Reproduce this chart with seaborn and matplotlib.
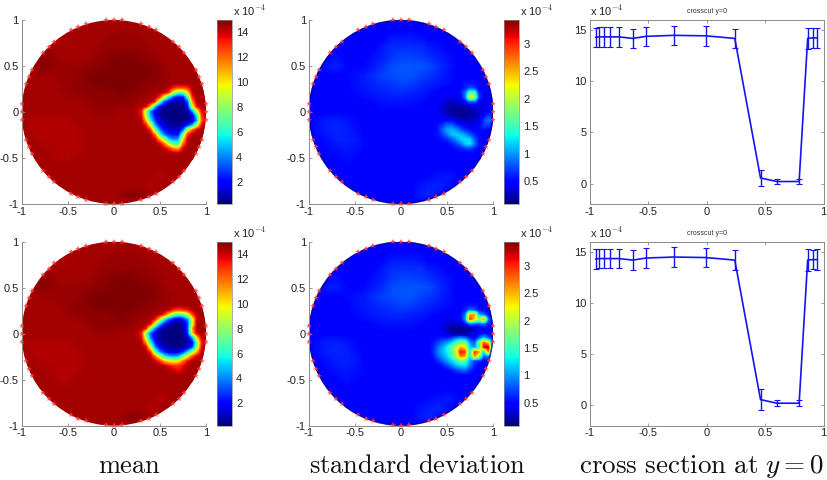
import numpy as np
import pandas as pd
import seaborn as sns
import matplotlib
matplotlib.use('Agg')
from matplotlib import pyplot as plt
from matplotlib.patches import Circle

# reconstructed fields in units of 1e-4, rows run y=1..-1, columns x=-1..1 (step 0.1)
mean_base = [
    [14.5] * 21,
    [14.5] * 21,
    [14.5, 14.5, 14.5, 14.5, 14.4, 14.4, 14.5, 14.5, 14.5, 14.6, 14.7, 14.7, 14.7, 14.6, 14.5, 14.5, 14.5, 14.5, 14.5, 14.5, 14.5],
    [14.5, 14.5, 14.5, 14.5, 14.5, 14.5, 14.5, 14.5, 14.6, 14.7, 14.7, 14.7, 14.7, 14.7, 14.6, 14.5, 14.5, 14.5, 14.5, 14.5, 14.5],
    [14.5, 14.5, 14.7, 14.8, 14.5, 14.5, 14.5, 14.5, 14.7, 14.75, 14.9, 14.95, 14.9, 14.75, 14.7, 14.6, 14.5, 14.5, 14.5, 14.5, 14.5],
    [14.5, 14.5, 14.8, 14.75, 14.65, 14.65, 14.65, 14.7, 14.75, 14.85, 15.0, 15.0, 15.0, 15.0, 14.85, 14.7, 14.5, 14.5, 14.5, 14.5, 14.5],
    [14.5, 14.5, 14.6, 14.6, 14.65, 14.65, 14.7, 14.85, 15.0, 15.0, 15.0, 15.0, 15.0, 15.0, 14.9, 14.7, 14.6, 14.5, 14.5, 14.5, 14.5],
    [14.5, 14.5, 14.5, 14.5, 14.6, 14.7, 14.75, 14.85, 14.95, 15.0, 15.0, 15.0, 15.0, 14.85, 14.75, 14.7, 14.6, 14.5, 14.5, 14.5, 14.5],
    [14.5, 14.5, 14.5, 14.5, 14.5, 14.65, 14.7, 14.75, 14.75, 14.75, 14.85, 14.95, 14.75, 14.75, 14.65, 14.5, 14.5, 14.5, 14.5, 14.5, 14.5],
    [14.5, 14.5, 14.5, 14.5, 14.5, 14.5, 14.5, 14.65, 14.75, 14.75, 14.75, 14.75, 14.65, 14.5, 14.5, 14.5, 14.5, 14.5, 14.5, 14.5, 14.5],
    [14.5, 14.5, 14.5, 14.5, 14.5, 14.5, 14.5, 14.5, 14.65, 14.65, 14.65, 14.5, 14.5, 13.8, 14.5, 14.5, 14.5, 14.5, 14.5, 14.5, 14.5],
    [14.5, 14.35, 14.35, 14.35, 14.35, 14.35, 14.5, 14.5, 14.5, 14.5, 14.5, 14.5, 14.5, 14.5, 14.5, 14.5, 14.5, 14.5, 14.5, 14.5, 14.5],
    [14.5, 14.35, 14.35, 14.35, 14.35, 14.35, 14.35, 14.5, 14.5, 14.5, 14.5, 14.5, 14.5, 14.5, 14.5, 14.5, 14.5, 14.5, 14.5, 14.5, 14.5],
    [14.5, 14.5, 14.35, 14.35, 14.35, 14.35, 14.35, 14.5, 14.5, 14.5, 14.5, 14.5, 14.5, 14.5, 14.5, 14.5, 14.5, 14.5, 14.5, 14.5, 14.5],
    [14.5, 14.5, 14.5, 14.4, 14.35, 14.35, 14.35, 14.5, 14.5, 14.5, 14.5, 14.5, 14.5, 14.5, 14.5, 14.5, 14.5, 14.5, 14.5, 14.5, 14.5],
    [14.5, 14.5, 14.5, 14.5, 14.35, 14.35, 14.5, 14.5, 14.5, 14.5, 14.5, 14.5, 14.5, 14.5, 14.5, 14.5, 14.5, 14.5, 14.5, 14.5, 14.5],
    [14.5] * 21,
    [14.5, 14.5, 14.5, 14.5, 14.5, 14.5, 14.5, 14.5, 14.5, 14.5, 14.5, 14.5, 14.5, 14.5, 14.5, 14.3, 14.5, 14.5, 14.5, 14.5, 14.5],
    [14.5, 14.5, 14.5, 14.5, 14.5, 14.5, 14.5, 14.5, 14.5, 14.5, 14.5, 14.5, 14.5, 14.5, 14.3, 14.5, 14.5, 14.5, 14.5, 14.5, 14.5],
    [14.5, 14.5, 14.5, 14.5, 14.5, 14.5, 14.5, 14.5, 14.5, 14.5, 14.5, 14.7, 14.85, 14.75, 14.5, 14.5, 14.5, 14.5, 14.5, 14.5, 14.5],
    [14.5] * 21,
]

std_base = [
    [0.5] * 21,
    [0.5] * 21,
    [0.5, 0.5, 0.5, 0.5, 0.5, 0.5, 0.5, 0.5, 0.5, 0.58, 0.58, 0.58, 0.55, 0.5, 0.5, 0.5, 0.5, 0.5, 0.5, 0.5, 0.5],
    [0.5, 0.5, 0.5, 0.5, 0.5, 0.5, 0.5, 0.5, 0.58, 0.65, 0.65, 0.65, 0.65, 0.58, 0.55, 0.5, 0.5, 0.5, 0.5, 0.5, 0.5],
    [0.5, 0.5, 0.5, 0.55, 0.5, 0.5, 0.5, 0.55, 0.6, 0.68, 0.72, 0.72, 0.7, 0.65, 0.6, 0.55, 0.5, 0.5, 0.5, 0.5, 0.5],
    [0.5, 0.5, 0.58, 0.6, 0.52, 0.5, 0.52, 0.58, 0.65, 0.75, 0.78, 0.78, 0.78, 0.75, 0.65, 0.58, 0.5, 0.5, 0.5, 0.5, 0.5],
    [0.5, 0.5, 0.5, 0.5, 0.52, 0.55, 0.58, 0.65, 0.72, 0.75, 0.78, 0.78, 0.72, 0.68, 0.62, 0.55, 0.5, 0.5, 0.5, 0.5, 0.5],
    [0.5, 0.5, 0.5, 0.5, 0.5, 0.55, 0.58, 0.62, 0.65, 0.68, 0.72, 0.7, 0.65, 0.6, 0.58, 0.55, 0.5, 0.5, 0.5, 0.5, 0.5],
    [0.5, 0.5, 0.5, 0.5, 0.5, 0.52, 0.55, 0.58, 0.6, 0.62, 0.62, 0.6, 0.58, 0.55, 0.5, 0.5, 0.5, 0.5, 0.5, 0.5, 0.5],
    [0.5, 0.5, 0.5, 0.5, 0.5, 0.5, 0.5, 0.52, 0.55, 0.55, 0.55, 0.55, 0.52, 0.5, 0.5, 0.5, 0.5, 0.5, 0.5, 0.5, 0.5],
    [0.5, 0.5, 0.5, 0.5, 0.5, 0.5, 0.5, 0.5, 0.5, 0.5, 0.5, 0.5, 0.5, 0.5, 0.5, 0.5, 0.5, 0.5, 0.5, 0.5, 0.5],
    [0.5, 0.55, 0.6, 0.6, 0.58, 0.52, 0.5, 0.5, 0.5, 0.5, 0.5, 0.5, 0.5, 0.5, 0.5, 0.5, 0.5, 0.5, 0.5, 0.5, 0.5],
    [0.5, 0.55, 0.6, 0.62, 0.6, 0.55, 0.5, 0.5, 0.5, 0.5, 0.5, 0.5, 0.5, 0.5, 0.5, 0.5, 0.5, 0.5, 0.5, 0.5, 0.5],
    [0.5, 0.5, 0.55, 0.6, 0.6, 0.58, 0.52, 0.5, 0.5, 0.5, 0.5, 0.5, 0.5, 0.5, 0.5, 0.5, 0.5, 0.5, 0.5, 0.5, 0.5],
    [0.5, 0.5, 0.52, 0.55, 0.58, 0.55, 0.52, 0.5, 0.5, 0.5, 0.5, 0.5, 0.5, 0.5, 0.5, 0.5, 0.5, 0.5, 0.5, 0.5, 0.5],
    [0.5, 0.5, 0.5, 0.5, 0.55, 0.52, 0.5, 0.5, 0.5, 0.5, 0.5, 0.5, 0.5, 0.5, 0.5, 0.5, 0.5, 0.5, 0.5, 0.5, 0.5],
    [0.5] * 21,
    [0.5, 0.5, 0.5, 0.5, 0.5, 0.5, 0.5, 0.5, 0.5, 0.5, 0.5, 0.5, 0.5, 0.52, 0.55, 0.58, 0.52, 0.5, 0.5, 0.5, 0.5],
    [0.5, 0.5, 0.5, 0.5, 0.5, 0.5, 0.5, 0.5, 0.5, 0.5, 0.5, 0.5, 0.55, 0.6, 0.62, 0.55, 0.5, 0.5, 0.5, 0.5, 0.5],
    [0.5, 0.5, 0.5, 0.5, 0.5, 0.5, 0.5, 0.5, 0.5, 0.5, 0.5, 0.5, 0.58, 0.62, 0.55, 0.5, 0.5, 0.5, 0.5, 0.5, 0.5],
    [0.5] * 21,
]

# finer patches around the inclusion, rows y=0.3..-0.5, columns x=0.3..1 (step 0.05)
mean_patch_top = [
    [14.85, 14.8, 14.75, 14.72, 14.7, 14.65, 14.6, 14.55, 14.5, 14.5, 14.5, 14.5, 14.5, 14.5, 14.5],
    [14.75, 14.72, 14.7, 14.65, 14.6, 14.55, 14.3, 13.0, 12.5, 12.5, 13.0, 14.3, 14.5, 14.5, 14.5],
    [14.75, 14.7, 14.65, 14.55, 14.4, 14.0, 13.0, 9.0, 7.0, 7.0, 10.0, 14.0, 14.5, 14.5, 14.5],
    [14.6, 14.55, 14.5, 14.3, 13.0, 9.0, 5.5, 3.0, 2.0, 2.2, 6.5, 13.0, 14.4, 14.5, 14.5],
    [14.5, 14.5, 14.4, 13.0, 7.0, 3.0, 1.5, 0.8, 0.5, 0.8, 3.0, 11.0, 14.3, 14.5, 14.5],
    [14.4, 14.0, 11.0, 5.0, 2.0, 0.8, 0.4, 0.3, 0.25, 0.3, 2.0, 9.0, 13.5, 14.4, 14.5],
    [13.5, 8.0, 4.0, 1.5, 0.6, 0.3, 0.25, 0.25, 0.25, 0.3, 0.6, 4.0, 9.0, 13.5, 14.5],
    [14.0, 9.0, 4.5, 2.0, 0.8, 0.4, 0.3, 0.25, 0.25, 0.3, 0.5, 1.2, 5.5, 12.5, 14.5],
    [14.4, 11.0, 6.0, 2.8, 1.2, 0.7, 0.4, 0.3, 0.25, 0.3, 0.5, 1.0, 4.5, 12.0, 14.5],
    [14.5, 13.5, 9.5, 4.5, 2.2, 1.2, 0.8, 0.6, 0.5, 0.9, 2.5, 4.5, 9.0, 13.5, 14.5],
    [14.5, 14.4, 13.0, 7.5, 4.0, 2.2, 1.6, 1.2, 1.2, 3.2, 9.0, 12.0, 14.0, 14.5, 14.5],
    [14.5, 14.5, 14.3, 12.0, 6.5, 3.8, 2.6, 2.2, 2.2, 7.5, 13.0, 14.3, 14.5, 14.5, 14.5],
    [14.5, 14.5, 14.5, 14.0, 11.0, 8.0, 5.0, 4.0, 4.5, 10.0, 14.0, 14.5, 14.5, 14.5, 14.5],
    [14.5, 14.5, 14.5, 14.5, 14.0, 12.0, 9.0, 7.0, 6.5, 12.0, 14.3, 14.5, 14.5, 14.5, 14.5],
    [14.5, 14.5, 14.5, 14.5, 14.5, 14.0, 13.0, 11.5, 11.0, 14.0, 14.5, 14.5, 14.5, 14.5, 14.5],
    [14.5, 14.5, 14.5, 14.5, 14.5, 14.5, 14.4, 14.3, 14.3, 14.4, 14.5, 14.5, 14.5, 14.5, 14.5],
    [14.5] * 15,
]

mean_patch_bottom = [
    [14.85, 14.8, 14.75, 14.72, 14.7, 14.65, 14.6, 14.55, 14.5, 14.5, 14.5, 14.5, 14.5, 14.5, 14.5],
    [14.75, 14.72, 14.7, 14.65, 14.6, 14.4, 14.3, 13.0, 12.5, 13.0, 13.5, 14.3, 14.5, 14.5, 14.5],
    [14.75, 14.7, 14.65, 14.4, 14.2, 13.0, 10.0, 8.0, 6.5, 7.0, 9.0, 12.5, 14.4, 14.5, 14.5],
    [14.6, 14.55, 14.4, 13.5, 10.0, 6.0, 3.5, 2.0, 1.3, 2.0, 4.0, 9.0, 14.0, 14.5, 14.5],
    [14.5, 14.4, 14.0, 9.0, 5.0, 2.5, 1.2, 0.6, 0.4, 0.9, 3.0, 9.0, 14.3, 14.5, 14.5],
    [14.4, 13.5, 8.0, 4.0, 1.6, 0.6, 0.3, 0.25, 0.25, 0.6, 3.0, 11.0, 14.4, 14.5, 14.5],
    [13.5, 7.5, 3.5, 1.3, 0.5, 0.3, 0.25, 0.25, 0.25, 0.5, 2.6, 10.0, 14.0, 14.5, 14.5],
    [14.0, 9.0, 4.0, 1.6, 0.6, 0.3, 0.25, 0.25, 0.25, 0.3, 1.0, 4.0, 10.0, 14.0, 14.5],
    [14.4, 11.5, 6.0, 2.5, 1.0, 0.5, 0.3, 0.25, 0.25, 0.3, 0.6, 2.0, 7.0, 13.0, 14.5],
    [14.5, 14.0, 9.0, 4.0, 2.0, 1.0, 0.6, 0.5, 0.5, 0.7, 1.3, 3.0, 8.0, 13.5, 14.5],
    [14.5, 14.4, 13.0, 7.5, 4.0, 2.5, 1.6, 1.4, 1.6, 2.6, 5.0, 8.0, 11.0, 14.0, 14.5],
    [14.5, 14.5, 14.3, 12.0, 9.0, 6.0, 5.0, 4.5, 5.0, 7.0, 10.0, 12.5, 14.0, 14.5, 14.5],
    [14.5, 14.5, 14.5, 14.0, 13.0, 11.0, 10.0, 9.5, 10.0, 12.0, 13.5, 14.3, 14.5, 14.5, 14.5],
    [14.5, 14.5, 14.5, 14.5, 14.4, 14.2, 13.5, 13.0, 13.0, 13.5, 14.3, 14.5, 14.5, 14.5, 14.5],
    [14.5, 14.5, 14.5, 14.5, 14.5, 14.5, 14.4, 14.0, 13.5, 14.0, 14.5, 14.5, 14.5, 14.5, 14.5],
    [14.5] * 15,
    [14.5] * 15,
]

std_patch_top = [
    [0.62, 0.6, 0.58, 0.56, 0.55, 0.52, 0.5, 0.5, 0.55, 0.55, 0.55, 0.5, 0.5, 0.5, 0.5],
    [0.58, 0.56, 0.54, 0.52, 0.5, 0.5, 0.5, 0.5, 0.6, 0.8, 0.7, 0.5, 0.5, 0.5, 0.5],
    [0.55, 0.52, 0.5, 0.5, 0.45, 0.45, 0.5, 0.55, 0.9, 1.6, 1.6, 0.6, 0.5, 0.5, 0.5],
    [0.52, 0.5, 0.5, 0.45, 0.4, 0.4, 0.45, 0.5, 0.9, 2.2, 2.0, 0.7, 0.5, 0.45, 0.5],
    [0.5, 0.5, 0.5, 0.4, 0.3, 0.3, 0.3, 0.35, 0.5, 0.8, 0.8, 0.45, 0.4, 0.4, 0.5],
    [0.5, 0.5, 0.45, 0.35, 0.25, 0.2, 0.2, 0.2, 0.25, 0.3, 0.35, 0.35, 0.4, 0.45, 0.5],
    [0.5, 0.5, 0.45, 0.35, 0.25, 0.18, 0.15, 0.15, 0.15, 0.2, 0.25, 0.3, 0.4, 0.5, 0.5],
    [0.5, 0.5, 0.45, 0.4, 0.3, 0.22, 0.18, 0.15, 0.15, 0.2, 0.2, 0.3, 0.5, 0.7, 0.6],
    [0.5, 0.5, 0.5, 0.5, 0.55, 0.55, 0.4, 0.3, 0.25, 0.3, 0.3, 0.4, 0.7, 0.9, 0.7],
    [0.5, 0.5, 0.55, 0.65, 0.85, 0.85, 0.7, 0.55, 0.45, 0.4, 0.4, 0.5, 0.7, 0.7, 0.5],
    [0.5, 0.5, 0.55, 0.8, 1.05, 1.1, 1.0, 0.8, 0.65, 0.55, 0.5, 0.5, 0.55, 0.5, 0.5],
    [0.5, 0.5, 0.55, 0.7, 0.9, 1.15, 1.2, 1.15, 1.0, 0.8, 0.6, 0.55, 0.5, 0.5, 0.5],
    [0.5, 0.5, 0.5, 0.55, 0.65, 0.8, 1.0, 1.2, 1.25, 1.2, 0.8, 0.55, 0.5, 0.5, 0.5],
    [0.5, 0.5, 0.5, 0.5, 0.5, 0.6, 0.7, 0.9, 1.2, 1.3, 0.9, 0.55, 0.5, 0.5, 0.5],
    [0.5, 0.5, 0.5, 0.5, 0.5, 0.5, 0.55, 0.6, 0.7, 0.75, 0.6, 0.5, 0.5, 0.5, 0.5],
    [0.5] * 15,
    [0.5] * 15,
]

std_patch_bottom = [
    [0.62, 0.6, 0.58, 0.56, 0.55, 0.52, 0.5, 0.5, 0.55, 0.55, 0.55, 0.5, 0.5, 0.5, 0.5],
    [0.58, 0.56, 0.54, 0.52, 0.5, 0.5, 0.5, 0.5, 0.6, 0.9, 0.8, 0.55, 0.5, 0.5, 0.5],
    [0.55, 0.52, 0.5, 0.5, 0.45, 0.45, 0.5, 0.55, 0.9, 2.6, 2.6, 1.1, 0.9, 0.55, 0.5],
    [0.52, 0.5, 0.5, 0.45, 0.4, 0.4, 0.45, 0.5, 1.0, 3.0, 2.4, 2.0, 2.7, 0.9, 0.5],
    [0.5, 0.5, 0.5, 0.4, 0.35, 0.3, 0.3, 0.35, 0.5, 0.9, 0.8, 0.8, 0.9, 0.6, 0.5],
    [0.5, 0.5, 0.45, 0.4, 0.3, 0.15, 0.15, 0.12, 0.12, 0.2, 0.3, 0.4, 0.45, 0.5, 0.5],
    [0.5, 0.5, 0.5, 0.45, 0.3, 0.2, 0.15, 0.12, 0.15, 0.3, 0.35, 0.45, 0.5, 0.5, 0.5],
    [0.5, 0.5, 0.55, 0.6, 0.6, 0.7, 0.9, 1.0, 0.9, 0.6, 0.5, 0.8, 1.2, 0.8, 0.5],
    [0.5, 0.55, 0.7, 0.85, 1.0, 1.2, 1.5, 1.8, 1.7, 1.0, 0.8, 1.8, 2.8, 2.4, 0.7],
    [0.5, 0.6, 0.85, 1.05, 1.3, 1.6, 2.0, 2.5, 2.3, 1.2, 1.0, 1.5, 3.2, 3.3, 0.8],
    [0.5, 0.6, 0.9, 1.1, 1.3, 1.55, 2.1, 3.1, 2.9, 1.3, 3.0, 2.6, 1.2, 2.8, 0.7],
    [0.5, 0.55, 0.8, 1.0, 1.2, 1.45, 1.9, 2.7, 2.5, 1.2, 2.6, 2.0, 0.8, 0.9, 0.5],
    [0.5, 0.5, 0.6, 0.8, 1.0, 1.2, 1.4, 1.7, 1.6, 1.0, 0.7, 0.6, 0.5, 0.5, 0.5],
    [0.5, 0.5, 0.5, 0.55, 0.7, 0.9, 1.1, 1.2, 1.25, 0.95, 0.6, 0.5, 0.5, 0.5, 0.5],
    [0.5, 0.5, 0.5, 0.5, 0.5, 0.55, 0.7, 0.8, 0.85, 0.65, 0.5, 0.5, 0.5, 0.5, 0.5],
    [0.5] * 15,
    [0.5] * 15,
]

# electrodes sit in groups of three round the boundary
electrode_groups = [0, 22.5, 45, 67.5, 90, 112.5, 135, 157.5, 180, 202.5, 225, 247.5, 270, 292.5, 315, 337.5]
electrode_offsets = [-5, 0, 5]

# cross section at y=0
cut_x = [-0.95, -0.92, -0.877, -0.826, -0.752, -0.632, -0.52, -0.282, -0.008, 0.24, 0.46, 0.6, 0.79, 0.863, 0.906, 0.946]
cut_mean = [14.3, 14.35, 14.35, 14.35, 14.35, 14.2, 14.4, 14.5, 14.45, 14.2, 0.55, 0.2, 0.2, 14.2, 14.25, 14.25]
cut_err_top = [0.95, 0.95, 0.95, 0.95, 0.95, 0.95, 0.95, 0.95, 0.95, 0.95, 0.75, 0.25, 0.25, 1.0, 0.95, 1.0]
cut_err_bottom = [0.95, 0.95, 0.95, 0.95, 0.95, 0.95, 0.95, 0.95, 0.95, 0.95, 1.0, 0.3, 0.3, 1.05, 0.95, 1.0]

field_ticks = [-1, -0.5, 0, 0.5, 1]
field_ticklabels = ['-1', '-0.5', '0', '0.5', '1']
mean_cbar_ticks = [2, 4, 6, 8, 10, 12, 14]
std_cbar_ticks = [0.5, 1, 1.5, 2, 2.5, 3]
std_cbar_ticklabels = ['0.5', '1', '1.5', '2', '2.5', '3']
cut_yticks = [0, 5, 10, 15]

W, H = 827, 480
GREY = '#8a8a8a'

sns.set_style('white')
plt.rcParams['font.family'] = ['Liberation Sans', 'DejaVu Sans']
plt.rcParams['mathtext.fontset'] = 'cm'
cmap = plt.get_cmap('jet')

fig = plt.figure(figsize=(W / 100, H / 100), dpi=100)


def add_ax(x0, y0, x1, y1):
    # pixel box, measured from the top left of the image
    return fig.add_axes([x0 / W, 1 - y1 / H, (x1 - x0) / W, (y1 - y0) / H])


def style_ticks(ax):
    ax.tick_params(axis='both', labelsize=8, direction='in', length=2.5, width=0.6,
                   color=GREY, labelcolor='#222222', pad=2, left=True, bottom=True)


def draw_field(x0, y0, base, patch, vmin, vmax, cbar_ticks, cbar_labels, rim):
    ax = add_ax(x0, y0, x0 + 184.5, y0 + 184)
    circle = Circle((0, 0), 1, transform=ax.transData, facecolor='none', edgecolor='none')
    ax.add_patch(circle)
    images = [
        ax.imshow(np.array(base), extent=[-1.05, 1.05, -1.05, 1.05], cmap=cmap, vmin=vmin, vmax=vmax,
                  interpolation='bilinear', origin='upper', aspect='auto'),
        ax.imshow(np.array(patch), extent=[0.275, 1.025, -0.525, 0.325], cmap=cmap, vmin=vmin, vmax=vmax,
                  interpolation='bilinear', origin='upper', aspect='auto'),
    ]
    for im in images:
        im.set_clip_path(circle)
    if rim:
        ax.add_patch(Circle((0, 0), 0.995, facecolor='none', edgecolor='#000080', linewidth=1.2, alpha=0.6))
    angles = np.radians([g + o for g in electrode_groups for o in electrode_offsets])
    ax.plot(np.cos(angles), np.sin(angles), linestyle='none', marker='*', markersize=4,
            color='#ff3b3b', markeredgewidth=0, alpha=0.85, clip_on=False, zorder=5)
    ax.set_xlim(-1, 1)
    ax.set_ylim(-1, 1)
    ax.set_xticks(field_ticks, field_ticklabels)
    ax.set_yticks(field_ticks, field_ticklabels)
    style_ticks(ax)
    sns.despine(ax=ax)
    for side in ['left', 'bottom']:
        ax.spines[side].set_color(GREY)
        ax.spines[side].set_linewidth(0.7)

    cax = add_ax(x0 + 195.5, y0, x0 + 210.5, y0 + 184)
    cb = fig.colorbar(images[0], cax=cax)
    cb.set_ticks(cbar_ticks, labels=cbar_labels)
    cb.ax.tick_params(labelsize=8, direction='in', length=2, width=0.5, color=GREY, labelcolor='#222222', pad=3)
    cb.outline.set_edgecolor(GREY)
    cb.outline.set_linewidth(0.5)
    fig.text((x0 + 211.5) / W, 1 - (y0 - 2) / H, r'x 10$^{-4}$', fontsize=8, color='#222222', va='bottom')


def draw_cut(y0, err):
    ax = add_ax(589.7, y0, 823.7, y0 + 184)
    cut = pd.DataFrame({'x': cut_x, 'mean': cut_mean})
    sns.lineplot(data=cut, x='x', y='mean', color='#1414f0', linewidth=1.2, ax=ax, errorbar=None)
    ax.errorbar(cut_x, cut_mean, yerr=err, fmt='none', ecolor='#1414f0', elinewidth=1, capsize=2, capthick=0.8)
    ax.set_xlim(-1, 1)
    ax.set_ylim(-2, 16)
    ax.set_xticks(field_ticks, field_ticklabels)
    ax.set_yticks(cut_yticks)
    ax.set_xlabel('')
    ax.set_ylabel('')
    style_ticks(ax)
    ax.tick_params(top=True, right=True)
    for spine in ax.spines.values():
        spine.set_color(GREY)
        spine.set_linewidth(0.7)
    ax.set_title('crosscut y=0', fontsize=5, color='#333333', pad=5)
    fig.text(590 / W, 1 - (y0 - 2) / H, r'x 10$^{-4}$', fontsize=8, color='#222222', va='bottom')


draw_field(21.5, 20, mean_base, mean_patch_top, 0.2, 15, mean_cbar_ticks, mean_cbar_ticks, False)
draw_field(308.7, 20, std_base, std_patch_top, 0.08, 3.44, std_cbar_ticks, std_cbar_ticklabels, True)
draw_cut(20, [cut_err_top, cut_err_top])

draw_field(21.5, 241.7, mean_base, mean_patch_bottom, 0.2, 15, mean_cbar_ticks, mean_cbar_ticks, False)
draw_field(308.7, 241.7, std_base, std_patch_bottom, 0.08, 3.44, std_cbar_ticks, std_cbar_ticklabels, True)
draw_cut(241.7, [cut_err_bottom, cut_err_bottom])

fig.text(130 / W, 1 - 473 / H, r'$\mathrm{mean}$', fontsize=19, ha='center', va='baseline', color='#111111')
fig.text(417 / W, 1 - 473 / H, r'$\mathrm{standard\ deviation}$', fontsize=19, ha='center', va='baseline', color='#111111')
fig.text(701 / W, 1 - 473 / H, r'$\mathrm{cross\ section\ at}\ y=0$', fontsize=19.5, ha='center', va='baseline', color='#111111')

fig.savefig('out.png', dpi=100)
